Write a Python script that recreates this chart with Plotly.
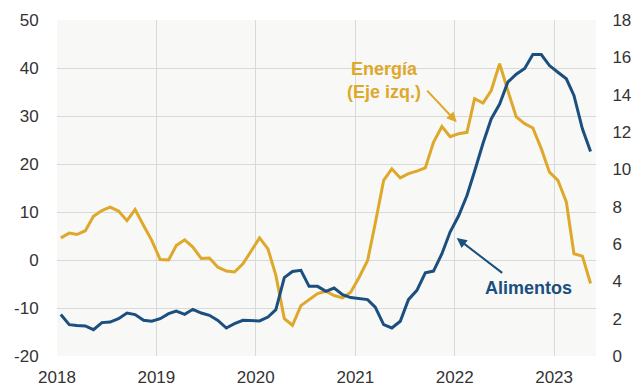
import pandas as pd
import plotly.graph_objects as go

dates = pd.date_range("2018-01-01", periods=65, freq="MS") + pd.Timedelta(days=14)

energia = [4.6, 5.6, 5.3, 6.1, 9.1, 10.3, 11.0, 10.2, 8.2, 10.5, 7.2, 4.1,
           0.1, 0.0, 3.0, 4.2, 2.7, 0.3, 0.4, -1.5, -2.3, -2.5, -0.8, 2.0,
           4.6, 2.3, -3.2, -12.2, -13.6, -9.5, -8.2, -7.0, -6.5, -7.4, -7.9, -6.7,
           -3.6, -0.1, 7.6, 16.6, 19.0, 17.1, 18.0, 18.5, 19.2, 24.5, 27.8, 25.7,
           26.3, 26.6, 33.6, 32.7, 35.3, 40.9, 35.3, 29.8, 28.4, 27.5, 23.2, 18.3,
           16.6, 12.1, 1.3, 0.8, -4.9]

alimentos = [2.22, 1.68, 1.64, 1.61, 1.41, 1.79, 1.82, 2.0, 2.30, 2.22, 1.91, 1.86,
             2.0, 2.27, 2.41, 2.23, 2.5, 2.30, 2.18, 1.91, 1.50, 1.73, 1.91, 1.88,
             1.88, 2.09, 2.48, 4.2, 4.53, 4.59, 3.73, 3.73, 3.46, 3.64, 3.29, 3.13,
             3.07, 3.02, 2.62, 1.68, 1.50, 1.86, 3.02, 3.52, 4.46, 4.55, 5.48, 6.64,
             7.5, 8.6, 9.9, 11.4, 12.7, 13.5, 14.67, 15.1, 15.4, 16.15, 16.15, 15.56,
             15.2, 14.85, 13.96, 12.17, 10.96]

left_ticks = [-20, -10, 0, 10, 20, 30, 40, 50]
left_labels = ["-20", "-10", "0", "10", "20", "30", "40", "50"]
right_ticks = [0, 2, 4, 6, 8, 10, 12, 14, 16, 18]
year_ticks = ["2018", "2019", "2020", "2021", "2022", "2023"]

GOLD = "#DEA82A"
BLUE = "#1A4F7F"
FONT = "Liberation Sans, Arial, sans-serif"

fig = go.Figure()
fig.add_trace(go.Scatter(x=dates, y=energia, mode="lines", line=dict(color=GOLD, width=3),
                         name="Energía", yaxis="y"))
fig.add_trace(go.Scatter(x=dates, y=alimentos, mode="lines", line=dict(color=BLUE, width=3),
                         name="Alimentos", yaxis="y2"))

fig.update_layout(
    width=636, height=388,
    margin=dict(l=57, r=40, t=19.5, b=32.3),
    paper_bgcolor="white",
    plot_bgcolor="#F8F8F7",
    showlegend=False,
    font=dict(family=FONT, size=17, color="#333333"),
    xaxis=dict(
        type="date",
        range=["2018-01-01", "2023-06-04"],
        tickvals=[f"{y}-01-01" for y in year_ticks],
        ticktext=year_ticks,
        showgrid=True, gridcolor="#D9D9D9", gridwidth=1,
        zeroline=False, showline=False, automargin=False,
        ticks="outside", ticklen=6, tickcolor="rgba(0,0,0,0)",
        tickfont=dict(family=FONT, size=17, color="#333333"),
    ),
    yaxis=dict(
        range=[-20, 50],
        tickvals=left_ticks,
        ticktext=left_labels,
        showgrid=True, gridcolor="#D9D9D9", gridwidth=1,
        zeroline=False, showline=False, automargin=False,
        ticks="outside", ticklen=14, tickcolor="rgba(0,0,0,0)",
        tickfont=dict(family=FONT, size=17, color="#333333"),
    ),
    yaxis2=dict(
        range=[0, 18],
        tickvals=right_ticks,
        overlaying="y", side="right",
        showgrid=False, zeroline=False, showline=False, automargin=False,
        ticks="outside", ticklen=12, tickcolor="rgba(0,0,0,0)",
        tickfont=dict(family=FONT, size=17, color="#333333"),
    ),
)

fig.add_annotation(text="<b>Energía<br>(Eje izq.)</b>", xref="paper", yref="paper",
                   x=0.6067, y=0.820, xanchor="center", yanchor="middle", showarrow=False,
                   font=dict(family=FONT, size=18, color=GOLD), align="center")
fig.add_annotation(text="", xref="paper", yref="paper", x=0.7416, y=0.696,
                   ax=-31, ay=-33, showarrow=True, arrowhead=2, arrowsize=1,
                   arrowwidth=2, arrowcolor=GOLD)
fig.add_annotation(text="<b>Alimentos</b>", xref="paper", yref="paper",
                   x=0.874, y=0.2014, xanchor="center", yanchor="middle", showarrow=False,
                   font=dict(family=FONT, size=18, color=BLUE))
fig.add_annotation(text="", xref="paper", yref="paper", x=0.7416, y=0.351,
                   ax=47, ay=36, showarrow=True, arrowhead=2, arrowsize=1,
                   arrowwidth=2, arrowcolor=BLUE)

fig.write_html("out.html")
